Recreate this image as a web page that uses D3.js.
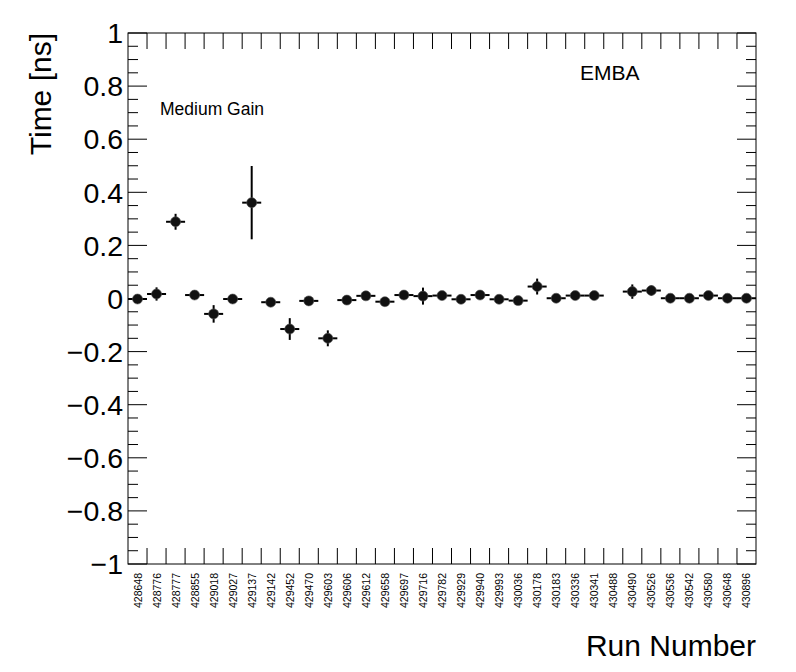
<!DOCTYPE html>
<html>
<head>
<meta charset="utf-8">
<script src="https://cdn.jsdelivr.net/npm/d3@7/dist/d3.min.js"></script>
<style>
  body { margin: 0; background: #fff; }
  text { font-family: "Liberation Sans", Arial, sans-serif; fill: #000; }
</style>
</head>
<body>
<div id="chart"></div>
<script>
// Chart size
var svgWidth = 796;
var svgHeight = 672;
var margin = { t: 33, r: 40, b: 108, l: 128 };
var chartWidth = svgWidth - margin.l - margin.r;
var chartHeight = svgHeight - margin.t - margin.b;

// Run numbers (one bin each)
var runs = ['428648', '428776', '428777', '428855', '429018', '429027', '429137', '429142',
    '429452', '429470', '429603', '429606', '429612', '429658', '429697', '429716', '429782',
    '429929', '429940', '429993', '430036', '430178', '430183', '430336', '430341', '430488',
    '430490', '430526', '430536', '430542', '430580', '430648', '430896'];

// Mean time per run [ns], null = empty bin
var times = [-0.002, 0.017, 0.289, 0.013, -0.058, -0.002, 0.361, -0.014,
    -0.115, -0.009, -0.150, -0.006, 0.010, -0.012, 0.013, 0.009, 0.011,
    -0.003, 0.013, -0.003, -0.008, 0.045, 0.001, 0.011, 0.011, null,
    0.026, 0.030, 0.001, 0.001, 0.011, 0.001, 0.001];

// Error on the mean [ns]
var timeErrs = [0.010, 0.025, 0.030, 0.010, 0.033, 0.010, 0.138, 0.008,
    0.041, 0.008, 0.030, 0.008, 0.008, 0.008, 0.010, 0.032, 0.008,
    0.008, 0.008, 0.008, 0.008, 0.030, 0.008, 0.008, 0.008, null,
    0.027, 0.019, 0.008, 0.008, 0.008, 0.008, 0.008];

var yTicks = [-1, -0.8, -0.6, -0.4, -0.2, 0, 0.2, 0.4, 0.6, 0.8, 1];

var svg = d3.select('#chart')
    .append('svg')
    .attr('width', svgWidth)
    .attr('height', svgHeight);

var chart = svg.append('g')
    .attr('transform', `translate(${margin.l} ${margin.t})`);

// Scales
var xScale = d3.scaleBand()
    .domain(runs)
    .range([0, chartWidth]);

var yScale = d3.scaleLinear()
    .domain([-1, 1])
    .range([chartHeight, 0]);

// Frame
chart.append('rect')
    .attr('x', 0).attr('y', 0)
    .attr('width', chartWidth).attr('height', chartHeight)
    .attr('fill', 'none')
    .attr('stroke', '#000')
    .attr('stroke-width', 1);

// Y axis ticks, left and right (major + minor)
var minorTicks = d3.range(-1, 1.0001, 0.05).filter(v => Math.abs(Math.round(v * 5) - v * 5) > 0.01);

function yTickLines(side, values, len) {
    var x0 = side == 'left' ? 0 : chartWidth;
    var dir = side == 'left' ? 1 : -1;
    chart.append('g')
        .selectAll('line')
        .data(values)
        .enter()
        .append('line')
        .attr('x1', x0)
        .attr('x2', x0 + dir * len)
        .attr('y1', d => yScale(d))
        .attr('y2', d => yScale(d))
        .attr('stroke', '#000')
        .attr('stroke-width', 1);
}
yTickLines('left', yTicks, 19);
yTickLines('left', minorTicks, 10);
yTickLines('right', yTicks, 19);
yTickLines('right', minorTicks, 10);

// Y tick labels
chart.append('g')
    .selectAll('text')
    .data(yTicks)
    .enter()
    .append('text')
    .attr('x', -5)
    .attr('y', d => yScale(d))
    .attr('dy', '0.36em')
    .attr('text-anchor', 'end')
    .style('font-size', '28.5px')
    .text(d => d3.format('')(d).replace('-', '\u2212'));

// X ticks at bin edges, bottom and top
var edges = runs.slice(1);
chart.append('g')
    .selectAll('line')
    .data(edges)
    .enter()
    .append('line')
    .attr('x1', d => xScale(d)).attr('x2', d => xScale(d))
    .attr('y1', chartHeight).attr('y2', chartHeight - 16)
    .attr('stroke', '#000');
chart.append('g')
    .selectAll('line')
    .data(edges)
    .enter()
    .append('line')
    .attr('x1', d => xScale(d)).attr('x2', d => xScale(d))
    .attr('y1', 0).attr('y2', 16)
    .attr('stroke', '#000');

// X category labels (rotated)
chart.append('g')
    .selectAll('text')
    .data(runs)
    .enter()
    .append('text')
    .attr('transform', d => `translate(${xScale(d) + xScale.bandwidth() / 2 + 4} ${chartHeight + 9}) rotate(-90)`)
    .attr('text-anchor', 'end')
    .style('font-size', '10.5px')
    .text(d => d);

// Data points with error bars
var points = runs.map((r, i) => ({ run: r, t: times[i], e: timeErrs[i] }))
    .filter(d => d.t !== null);

var pts = chart.append('g')
    .selectAll('g')
    .data(points)
    .enter()
    .append('g');

pts.append('line')
    .attr('x1', d => xScale(d.run))
    .attr('x2', d => xScale(d.run) + xScale.bandwidth())
    .attr('y1', d => yScale(d.t))
    .attr('y2', d => yScale(d.t))
    .attr('stroke', '#000')
    .attr('stroke-width', 2);

pts.append('line')
    .attr('x1', d => xScale(d.run) + xScale.bandwidth() / 2)
    .attr('x2', d => xScale(d.run) + xScale.bandwidth() / 2)
    .attr('y1', d => yScale(d.t - d.e))
    .attr('y2', d => yScale(d.t + d.e))
    .attr('stroke', '#000')
    .attr('stroke-width', 2);

pts.append('circle')
    .attr('cx', d => xScale(d.run) + xScale.bandwidth() / 2)
    .attr('cy', d => yScale(d.t))
    .attr('r', 5)
    .attr('fill', '#111')
    .attr('stroke', '#555')
    .attr('stroke-width', 0.6);

// Labels inside the frame
chart.append('text')
    .attr('x', 160 - margin.l)
    .attr('y', 115 - margin.t)
    .style('font-size', '17.5px')
    .text('Medium Gain');

chart.append('text')
    .attr('x', 580 - margin.l)
    .attr('y', 80 - margin.t)
    .style('font-size', '21px')
    .text('EMBA');

// Axis titles
svg.append('text')
    .attr('transform', `translate(51 33) rotate(-90)`)
    .attr('text-anchor', 'end')
    .style('font-size', '30px')
    .text('Time [ns]');

svg.append('text')
    .attr('x', 756)
    .attr('y', 656)
    .attr('text-anchor', 'end')
    .style('font-size', '30px')
    .text('Run Number');
</script>
</body>
</html>
